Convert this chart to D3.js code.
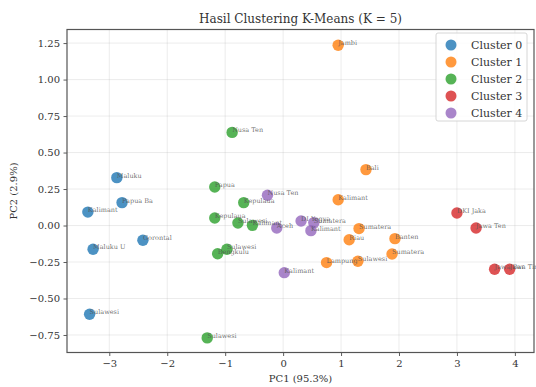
<!DOCTYPE html>
<html>
<head>
<meta charset="utf-8">
<script src="https://cdn.jsdelivr.net/npm/d3@7/dist/d3.min.js"></script>
<style>
  body { margin: 0; background: #fff; }
  svg { display: block; font-family: "DejaVu Serif", serif; }
</style>
</head>
<body>
<svg id="chart" width="536" height="387"></svg>
<script>
// cluster names and colours
var clusterNames = ["Cluster 0", "Cluster 1", "Cluster 2", "Cluster 3", "Cluster 4"];
var clusterColors = ["#1f77b4", "#ff7f0e", "#2ca02c", "#d62728", "#9467bd"];

// one entry per province (labels cut to 8 characters like the original)
var provinces = [
	"Maluku", "Papua Ba", "Kalimant", "Gorontal", "Maluku U", "Sulawesi",
	"Jambi", "Bali", "Kalimant", "Sumatera", "Riau", "Banten", "Sumatera", "Lampung", "Sulawesi",
	"Nusa Ten", "Papua", "Kepulaua", "Kepulaua", "Sulawesi", "Kalimant", "Sulawesi", "Bengkulu", "Sulawesi",
	"DKI Jaka", "Jawa Ten", "Jawa Bar", "Jawa Tim",
	"Nusa Ten", "Aceh", "DI Yogya", "Sumatera", "Kalimant", "Kalimant"
];
var pc1 = [
	-2.87, -2.78, -3.37, -2.42, -3.28, -3.34,
	0.95, 1.43, 0.95, 1.31, 1.14, 1.93, 1.88, 0.75, 1.29,
	-0.88, -1.18, -0.68, -1.18, -0.78, -0.53, -0.97, -1.13, -1.31,
	3.00, 3.33, 3.65, 3.91,
	-0.27, -0.11, 0.31, 0.53, 0.48, 0.02
];
var pc2 = [
	0.328, 0.157, 0.092, -0.101, -0.163, -0.608,
	1.235, 0.383, 0.177, -0.021, -0.097, -0.090, -0.195, -0.254, -0.245,
	0.638, 0.264, 0.157, 0.051, 0.017, 0.001, -0.163, -0.193, -0.770,
	0.086, -0.017, -0.300, -0.300,
	0.207, -0.017, 0.031, 0.020, -0.035, -0.323
];
var clusterOf = [
	0, 0, 0, 0, 0, 0,
	1, 1, 1, 1, 1, 1, 1, 1, 1,
	2, 2, 2, 2, 2, 2, 2, 2, 2,
	3, 3, 3, 3,
	4, 4, 4, 4, 4, 4
];
var xTicks = [-3, -2, -1, 0, 1, 2, 3, 4];
var yTicks = [-0.75, -0.5, -0.25, 0, 0.25, 0.5, 0.75, 1.0, 1.25];

var svg = d3.select("#chart");
var margin = { left: 67, top: 29.5, right: 2, bottom: 34.5 };
var W = 536, H = 387;

var x = d3.scaleLinear().domain([-3.73, 4.33]).range([margin.left, W - margin.right]);
var y = d3.scaleLinear().domain([-0.87, 1.343]).range([H - margin.bottom, margin.top]);

var points = pc1.map(function(v, i) {
	return { name: provinces[i], x: v, y: pc2[i], c: clusterOf[i] };
});

// grid
var grid = svg.append("g").attr("class", "grid");
grid.selectAll("line.gx")
	.data(xTicks)
	.enter()
	.append("line")
	.attr("x1", function(d) { return x(d); })
	.attr("x2", function(d) { return x(d); })
	.attr("y1", y.range()[0])
	.attr("y2", y.range()[1])
	.attr("stroke", "#b0b0b0")
	.attr("stroke-opacity", 0.3)
	.attr("stroke-width", 0.8);
grid.selectAll("line.gy")
	.data(yTicks)
	.enter()
	.append("line")
	.attr("x1", x.range()[0])
	.attr("x2", x.range()[1])
	.attr("y1", function(d) { return y(d); })
	.attr("y2", function(d) { return y(d); })
	.attr("stroke", "#b0b0b0")
	.attr("stroke-opacity", 0.3)
	.attr("stroke-width", 0.8);

// axes
var fmtY = function(d) { return d3.format(".2f")(d).replace("-", "\u2212"); };
var fmtX = function(d) { return String(d).replace("-", "\u2212"); };

var xAxis = svg.append("g")
	.attr("transform", "translate(0," + y.range()[0] + ")")
	.call(d3.axisBottom(x).tickValues(xTicks).tickFormat(fmtX).tickSize(3.5).tickPadding(3.5));
var yAxis = svg.append("g")
	.attr("transform", "translate(" + x.range()[0] + ",0)")
	.call(d3.axisLeft(y).tickValues(yTicks).tickFormat(fmtY).tickSize(3.5).tickPadding(3.5));

[xAxis, yAxis].forEach(function(a) {
	a.select(".domain").remove();
	a.selectAll(".tick line").attr("stroke", "#333").attr("stroke-width", 0.8);
	a.selectAll(".tick text")
		.attr("fill", "#333")
		.style("font-family", "DejaVu Serif")
		.style("font-size", "10px");
});

// frame
svg.append("rect")
	.attr("x", x.range()[0])
	.attr("y", y.range()[1])
	.attr("width", x.range()[1] - x.range()[0])
	.attr("height", y.range()[0] - y.range()[1])
	.attr("fill", "none")
	.attr("stroke", "#555")
	.attr("stroke-width", 1.2);

// points
svg.append("g")
	.selectAll("circle")
	.data(points)
	.enter()
	.append("circle")
	.attr("cx", function(d) { return x(d.x); })
	.attr("cy", function(d) { return y(d.y); })
	.attr("r", 5.7)
	.attr("fill", function(d) { return clusterColors[d.c]; })
	.attr("fill-opacity", 0.8);

// province labels
svg.append("g")
	.selectAll("text")
	.data(points)
	.enter()
	.append("text")
	.attr("x", function(d) { return x(d.x); })
	.attr("y", function(d) { return y(d.y); })
	.attr("fill", "#555")
	.attr("fill-opacity", 0.85)
	.style("font-size", "6.5px")
	.text(function(d) { return d.name; });

// title and axis labels
var cx = (x.range()[0] + x.range()[1]) / 2;
svg.append("text")
	.attr("x", cx)
	.attr("y", 23)
	.attr("text-anchor", "middle")
	.attr("fill", "#333")
	.style("font-size", "12px")
	.text("Hasil Clustering K-Means (K = 5)");

svg.append("text")
	.attr("x", cx)
	.attr("y", 382)
	.attr("text-anchor", "middle")
	.attr("fill", "#333")
	.style("font-size", "10px")
	.text("PC1 (95.3%)");

svg.append("text")
	.attr("transform", "translate(17," + ((y.range()[0] + y.range()[1]) / 2) + ") rotate(-90)")
	.attr("text-anchor", "middle")
	.attr("fill", "#333")
	.style("font-size", "10px")
	.text("PC2 (2.9%)");

// legend
var legend = svg.append("g").attr("transform", "translate(436,33)");
legend.append("rect")
	.attr("width", 91)
	.attr("height", 88)
	.attr("rx", 2)
	.attr("fill", "#fff")
	.attr("fill-opacity", 0.8)
	.attr("stroke", "#ccc")
	.attr("stroke-width", 0.8);
var item = legend.selectAll("g.item")
	.data(clusterNames)
	.enter()
	.append("g")
	.attr("transform", function(d, i) { return "translate(0," + (12 + i * 17) + ")"; });
item.append("circle")
	.attr("cx", 15)
	.attr("cy", 0)
	.attr("r", 5.5)
	.attr("fill", function(d, i) { return clusterColors[i]; })
	.attr("fill-opacity", 0.8);
item.append("text")
	.attr("x", 35)
	.attr("y", 4)
	.attr("fill", "#333")
	.style("font-size", "11px")
	.text(function(d) { return d; });
</script>
</body>
</html>
